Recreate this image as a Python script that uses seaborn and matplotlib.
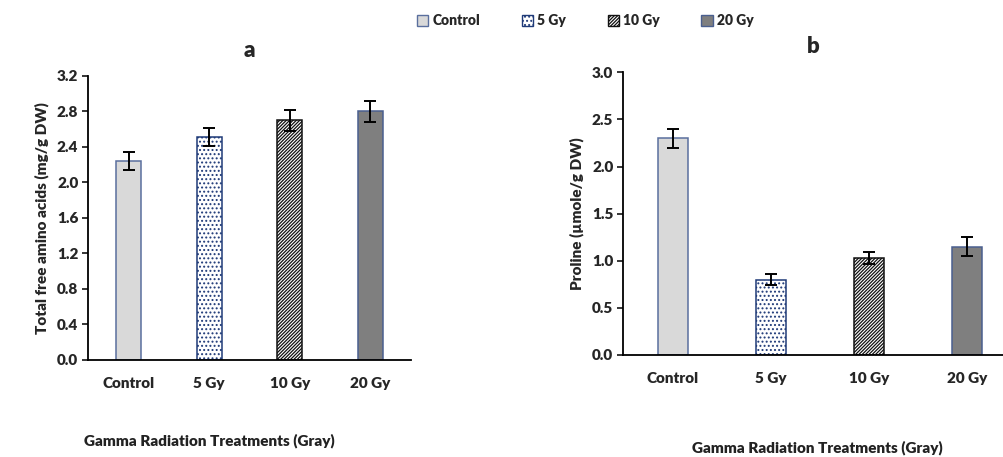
import pandas as pd
import matplotlib
matplotlib.use("Agg")
import matplotlib.pyplot as plt
import seaborn as sns
from matplotlib.patches import Patch

# 数据
treatments = ["Control", "5 Gy", "10 Gy", "20 Gy"]
amino_mean = [2.24, 2.51, 2.70, 2.80]
amino_err = [0.10, 0.10, 0.12, 0.12]
proline_mean = [2.30, 0.80, 1.03, 1.15]
proline_err = [0.10, 0.06, 0.06, 0.10]

face_colors = ["#d9d9d9", "#ffffff", "#ffffff", "#7f7f7f"]
edge_colors = ["#5a6f9e", "#1f3a78", "#111111", "#4a5f8f"]
hatches = ["", "....", "//////////", ""]

sns.set_theme(style="white")
plt.rcParams['font.family'] = ['Lato', 'DejaVu Sans']
plt.rcParams['hatch.linewidth'] = 0.9

df_a = pd.DataFrame({"Treatment": treatments, "val": amino_mean})
df_b = pd.DataFrame({"Treatment": treatments, "val": proline_mean})

fig = plt.figure(figsize=(10.04, 4.57), dpi=100)
ax1 = fig.add_axes([0.0877, 0.2123, 0.3217, 0.6214])
ax2 = fig.add_axes([0.6205, 0.2232, 0.3795, 0.6186])


def draw(ax, df, err, ylim, yticks, fmt, ylabel, title, xlim):
    sns.barplot(data=df, x="Treatment", y="val", hue="Treatment", order=treatments,
                hue_order=treatments, palette=face_colors, width=0.31, dodge=False,
                legend=False, errorbar=None, ax=ax)
    for p, ec, h in zip(ax.patches, edge_colors, hatches):
        p.set_edgecolor(ec)
        p.set_linewidth(1.1)
        p.set_hatch(h)
    ax.errorbar(range(len(treatments)), df["val"], yerr=err, fmt="none",
                ecolor="black", elinewidth=1.4, capsize=4, capthick=1.4)
    ax.set_ylim(*ylim)
    ax.set_xlim(*xlim)
    ax.set_yticks(yticks)
    ax.set_yticklabels([fmt.format(t) for t in yticks], fontsize=11, fontweight="heavy")
    ax.set_xticks(range(len(treatments)))
    ax.set_xticklabels(treatments, fontsize=11, fontweight="heavy")
    ax.tick_params(axis="y", direction="out", length=4, width=1.1, left=True, color="black", pad=3)
    ax.tick_params(axis="x", length=0, pad=12)
    for s in ["top", "right"]:
        ax.spines[s].set_visible(False)
    for s in ["left", "bottom"]:
        ax.spines[s].set_color("black")
        ax.spines[s].set_linewidth(1.3)
    ax.set_ylabel(ylabel, fontsize=11, fontweight="heavy", labelpad=6)
    ax.set_xlabel("")
    ax.set_title(title, fontsize=16, fontweight="heavy", pad=14)


draw(ax1, df_a, amino_err, (0, 3.2), [0.0, 0.4, 0.8, 1.2, 1.6, 2.0, 2.4, 2.8, 3.2],
     "{:.1f}", "Total free amino acids (mg/g DW)", "a", (-0.505, 3.507))
draw(ax2, df_b, proline_err, (0, 3.0), [0.0, 0.5, 1.0, 1.5, 2.0, 2.5, 3.0],
     "{:.1f}", "Proline (µmole/g DW)", "b", (-0.51, 3.378))

fig.text(0.209, 0.035, "Gamma Radiation Treatments (Gray)", ha="center", va="center",
         fontsize=11, fontweight="heavy", color="#222222")
fig.text(0.814, 0.02, "Gamma Radiation Treatments (Gray)", ha="center", va="center",
         fontsize=11, fontweight="heavy", color="#222222")

handles = [Patch(facecolor=fc, edgecolor=ec, hatch=h, linewidth=1.0)
           for fc, ec, h in zip(face_colors, edge_colors, hatches)]
fig.legend(handles, treatments, loc="center", bbox_to_anchor=(0.583, 0.955), ncol=4,
           frameon=False, handlelength=0.8, handleheight=0.8, handletextpad=0.3,
           columnspacing=3.0, prop={"weight": "heavy", "size": 10})

fig.savefig("out.png", dpi=100)
